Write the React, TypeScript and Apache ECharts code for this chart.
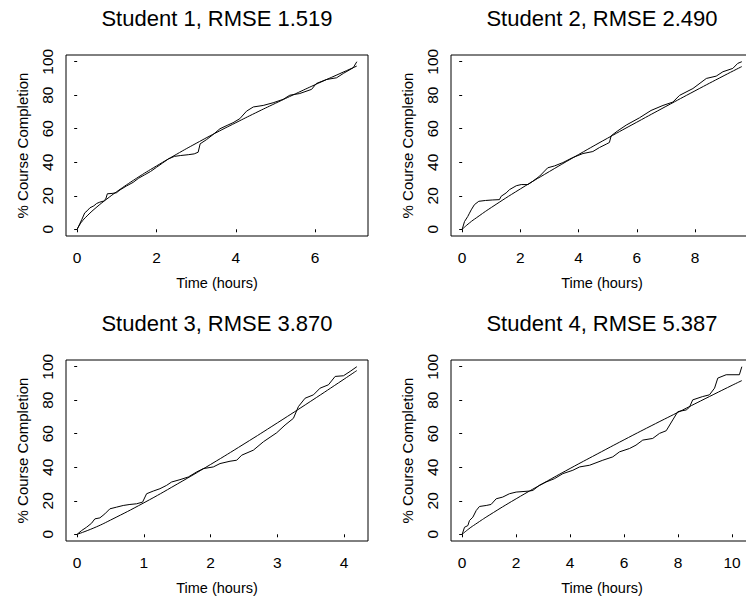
import React, { useEffect, useRef } from "react";
import * as echarts from "echarts";

// ---------- data ----------
const titles = [
  "Student 1, RMSE 1.519",
  "Student 2, RMSE 2.490",
  "Student 3, RMSE 3.870",
  "Student 4, RMSE 5.387",
];

const yTicks = [0, 20, 40, 60, 80, 100];
const s1XTicks = [0, 2, 4, 6];
const s2XTicks = [0, 2, 4, 6, 8];
const s3XTicks = [0, 1, 2, 3, 4];
const s4XTicks = [0, 2, 4, 6, 8, 10];

// observed completion (hours, %)
const s1Time = [0, 0.05, 0.12, 0.19, 0.25, 0.32, 0.42, 0.49, 0.57, 0.66, 0.72, 0.76, 0.88, 0.99, 1.08, 1.24, 1.41, 1.55, 1.7, 1.85, 2.0, 2.15, 2.3, 2.45, 2.6, 2.8, 2.95, 3.05, 3.1, 3.26, 3.43, 3.6, 3.78, 3.93, 4.1, 4.27, 4.44, 4.69, 4.94, 5.19, 5.36, 5.61, 5.91, 6.03, 6.29, 6.54, 6.71, 6.96, 7.05];
const s1Obs = [0, 2.5, 6, 9.8, 11, 12.8, 14, 15.4, 16.2, 16.8, 18, 21.2, 21.4, 21.8, 23.5, 25.8, 28, 30.5, 32.5, 34.5, 37, 39.5, 42, 43.5, 44, 44.5, 45, 46, 51, 53.5, 56.6, 60, 62, 63.6, 66, 70.5, 73, 73.9, 75.5, 77.5, 80, 81, 83.5, 87, 89.4, 90.4, 93, 96.4, 100];

const s2Time = [0, 0.08, 0.19, 0.25, 0.31, 0.42, 0.57, 0.8, 1.05, 1.28, 1.34, 1.51, 1.63, 1.86, 2.03, 2.26, 2.43, 2.66, 2.94, 3.17, 3.46, 3.8, 4.15, 4.49, 4.72, 4.95, 5.06, 5.12, 5.35, 5.64, 6.09, 6.49, 6.9, 7.24, 7.47, 7.93, 8.39, 8.73, 8.96, 9.3, 9.47, 9.61];
const s2Obs = [0, 4.6, 7.6, 9.6, 11.6, 14.7, 16.7, 17.2, 17.5, 17.7, 19.7, 21.7, 23.7, 26, 26.7, 26.7, 28.7, 31.7, 36.7, 37.8, 39.8, 42.8, 45.2, 46.4, 48.8, 50.8, 51.8, 55.8, 58.8, 62.2, 66.5, 70.9, 73.9, 75.9, 79.9, 84, 90, 91.4, 94, 96, 99, 100];

const s3Time = [0, 0.065, 0.14, 0.215, 0.265, 0.34, 0.415, 0.49, 0.59, 0.69, 0.79, 0.89, 0.98, 1.04, 1.14, 1.24, 1.34, 1.415, 1.54, 1.665, 1.79, 1.89, 2.04, 2.14, 2.29, 2.39, 2.465, 2.64, 2.79, 2.99, 3.115, 3.24, 3.315, 3.415, 3.54, 3.64, 3.765, 3.865, 3.99, 4.09, 4.19];
const s3Obs = [0, 2.2, 4.2, 6.6, 9.2, 9.8, 12.2, 15.2, 16.2, 17.2, 17.8, 18.2, 19.2, 24.2, 25.8, 27.2, 29.2, 31.2, 32.6, 34.2, 37.2, 39.2, 40.2, 42.2, 43.6, 44.2, 47.2, 50.2, 55.2, 60.6, 65.2, 69.2, 76.2, 81.2, 83.2, 87.2, 89.2, 94.2, 94.6, 97.2, 100];

const s4Time = [0, 0.086, 0.21, 0.27, 0.395, 0.52, 0.64, 0.89, 1.07, 1.26, 1.5, 1.75, 2.0, 2.49, 2.62, 2.86, 3.11, 3.42, 3.73, 4.1, 4.35, 4.72, 5.21, 5.58, 5.83, 6.2, 6.44, 6.69, 7.06, 7.31, 7.56, 7.8, 7.99, 8.3, 8.42, 8.54, 8.91, 9.16, 9.35, 9.47, 9.78, 10.27, 10.36];
const s4Obs = [0, 4.2, 5.2, 8.2, 10.2, 14.2, 16.6, 17.2, 17.8, 21.2, 22.2, 24.2, 25.2, 25.8, 26.2, 29.2, 31.2, 33.2, 36.2, 38.2, 40.2, 41.2, 44.2, 46.2, 49.2, 51.2, 53.2, 56.2, 57.2, 60.2, 61.8, 68.2, 73.2, 74.2, 75.8, 80.2, 82.2, 83.2, 87.2, 93.2, 95.2, 95.2, 100];

// fitted curves (hours, %)
const s1FitTime = [0, 0.1, 0.25, 0.5, 0.75, 1, 1.5, 2, 2.5, 3, 3.5, 4, 4.5, 5, 5.5, 6, 6.5, 7.05];
const s1Fit = [0, 4.0, 8.0, 13.4, 18.1, 22.5, 30.5, 37.8, 44.7, 51.3, 57.6, 63.6, 69.5, 75.2, 80.8, 86.3, 91.6, 97.4];

const s2FitTime = [0, 0.25, 0.5, 1, 2, 3, 4, 5, 6, 7, 8, 9, 9.61];
const s2Fit = [0, 3.8, 7.0, 13.0, 24.1, 34.5, 44.6, 54.4, 63.9, 73.3, 82.6, 91.7, 97.1];

const s3FitTime = [0, 0.25, 0.5, 1, 1.5, 2, 2.5, 3, 3.5, 4, 4.19];
const s3Fit = [0, 3.8, 8.5, 18.8, 30.0, 41.7, 53.9, 66.5, 79.4, 92.6, 97.7];

const s4FitTime = [0, 0.25, 0.5, 1, 2, 3, 4, 5, 6, 7, 8, 9, 10, 10.36];
const s4Fit = [0, 3.3, 6.1, 11.4, 21.2, 30.4, 39.3, 47.9, 56.4, 64.7, 72.8, 80.9, 88.9, 91.7];

// ---------- chart ----------
const FONT = "Liberation Sans, Arial, Helvetica, sans-serif";

const panels = [
  { title: titles[0], t: s1Time, v: s1Obs, ft: s1FitTime, fv: s1Fit, ticks: s1XTicks },
  { title: titles[1], t: s2Time, v: s2Obs, ft: s2FitTime, fv: s2Fit, ticks: s2XTicks },
  { title: titles[2], t: s3Time, v: s3Obs, ft: s3FitTime, fv: s3Fit, ticks: s3XTicks },
  { title: titles[3], t: s4Time, v: s4Obs, ft: s4FitTime, fv: s4Fit, ticks: s4XTicks },
];

const pos = [
  { left: 66, top: 55 },
  { left: 451, top: 55 },
  { left: 66, top: 360 },
  { left: 451, top: 360 },
];
const W = 302;
const H = 181;

function zip(a: number[], b: number[]) {
  return a.map((x, i) => [x, b[i]]);
}

function buildOption() {
  const grid: any[] = [];
  const xAxis: any[] = [];
  const yAxis: any[] = [];
  const series: any[] = [];
  const graphic: any[] = [];
  panels.forEach((p, i) => {
    const P = pos[i];
    grid.push({
      left: P.left,
      top: P.top,
      width: W,
      height: H,
      show: true,
      borderColor: "#000",
      borderWidth: 1,
      backgroundColor: "transparent",
    });
    const tMax = Math.max(...p.t, ...p.ft);
    const xMin = -0.04 * tMax;
    const xMax = tMax * 1.04;
    xAxis.push({
      type: "value",
      gridIndex: i,
      min: xMin,
      max: xMax,
      axisLine: { show: false },
      axisTick: { show: true, length: 3, customValues: p.ticks, lineStyle: { color: "#000" } },
      axisLabel: { customValues: p.ticks, margin: 13, fontSize: 15.5, color: "#000", fontFamily: FONT },
      splitLine: { show: false },
      name: "Time (hours)",
      nameLocation: "middle",
      nameGap: 39,
      nameTextStyle: { fontSize: 14.5, color: "#000", fontFamily: FONT },
    });
    yAxis.push({
      type: "value",
      gridIndex: i,
      min: -4,
      max: 104,
      axisLine: { show: false },
      axisTick: { show: true, length: 3, customValues: yTicks, lineStyle: { color: "#000" } },
      axisLabel: { customValues: yTicks, rotate: 90, margin: 11, fontSize: 15.5, color: "#000", fontFamily: FONT },
      splitLine: { show: false },
      name: "% Course Completion",
      nameLocation: "middle",
      nameGap: 36,
      nameTextStyle: { fontSize: 15, color: "#000", fontFamily: FONT },
    });
    series.push({
      type: "line",
      xAxisIndex: i,
      yAxisIndex: i,
      data: zip(p.t, p.v),
      showSymbol: false,
      symbol: "none",
      lineStyle: { color: "#000", width: 1 },
      silent: true,
    });
    series.push({
      type: "line",
      xAxisIndex: i,
      yAxisIndex: i,
      data: zip(p.ft, p.fv),
      showSymbol: false,
      symbol: "none",
      smooth: true,
      lineStyle: { color: "#000", width: 1 },
      silent: true,
    });
    graphic.push({
      type: "text",
      x: P.left + W / 2,
      y: P.top - 37,
      style: {
        text: p.title,
        fontSize: 22,
        fontFamily: FONT,
        fill: "#000",
        align: "center",
        verticalAlign: "middle",
      },
    });
  });
  return {
    animation: false,
    backgroundColor: "#fff",
    grid,
    xAxis,
    yAxis,
    series,
    graphic,
  };
}

export default function App() {
  const ref = useRef<HTMLDivElement>(null);
  useEffect(() => {
    if (!ref.current) return;
    document.body.style.overflow = "hidden";
    document.documentElement.style.overflow = "hidden";
    const chart = echarts.init(ref.current, undefined, { renderer: "svg" });
    chart.setOption(buildOption() as any);
    return () => chart.dispose();
  }, []);
  return (
    <div
      ref={ref}
      style={{ position: "fixed", left: 0, top: 0, width: 760, height: 597, background: "#fff" }}
    />
  );
}
